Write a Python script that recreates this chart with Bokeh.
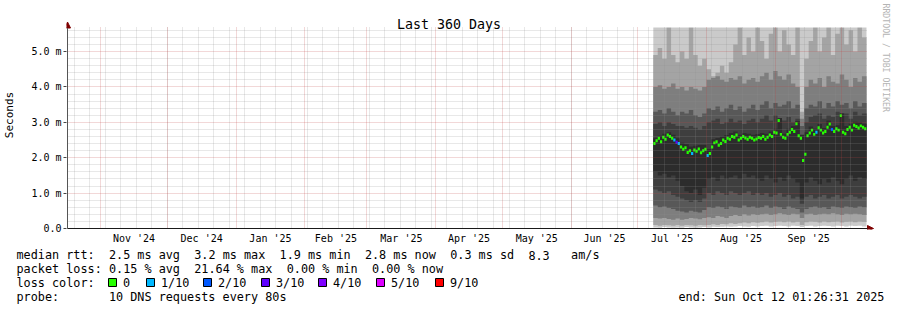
import pandas as pd
from math import pi
from bokeh.plotting import figure
from bokeh.models import (Range1d, FixedTicker, Grid, Label, Arrow, NormalHead,
                          ColumnDataSource)
from bokeh.embed import file_html
from bokeh.resources import INLINE
from bokeh.core.properties import value

FONT = "DejaVu Sans Mono"

# ---------------- data ----------------
period_start = "2024-10-17 01:26:31"
period_end = "2025-10-12 01:26:31"
title_text = "Last 360 Days"
y_label = "Seconds"

month_starts = ["2024-11-01", "2024-12-01", "2025-01-01", "2025-02-01", "2025-03-01",
                "2025-04-01", "2025-05-01", "2025-06-01", "2025-07-01", "2025-08-01",
                "2025-09-01", "2025-10-01"]
month_labels = ["Nov '24", "Dec '24", "Jan '25", "Feb '25", "Mar '25", "Apr '25",
                "May '25", "Jun '25", "Jul '25", "Aug '25", "Sep '25"]
week_starts = pd.date_range("2024-10-20", "2025-10-11", freq="7D")

y_ticks = [0, 1, 2, 3, 4, 5]
y_tick_labels = ["0.0", "1.0 m", "2.0 m", "3.0 m", "4.0 m", "5.0 m"]

# smoke bands (ms), one value per 2 days starting 2025-07-08
# (the maximum is above the graph top everywhere: read as "at least 5.68")
band_dates = pd.date_range("2025-07-08", periods=48, freq="2D")
band_max = [5.9, 6.0, 5.9, 6.1, 5.95, 5.85, 6.0, 5.9, 6.1, 5.95, 5.9, 6.0,
            5.85, 5.9, 5.9, 5.95, 5.9, 6.0, 6.05, 6.1, 6.0, 6.05, 5.95, 6.1,
            6.05, 5.9, 6.1, 6.1, 6.0, 6.1, 6.05, 5.95, 6.1, 5.8, 6.0, 6.05,
            6.1, 6.0, 6.05, 6.1, 5.95, 6.05, 6.1, 6.0, 6.1, 6.0, 6.1, 6.05]
band_u2 = [4.9, 5.1, 4.8, 5.7, 4.9, 4.7, 5.0, 4.8, 5.7, 4.9, 4.6, 4.8,
           4.5, 4.3, 4.4, 4.6, 4.4, 4.7, 5.2, 5.7, 4.9, 5.4, 5.0, 5.7,
           5.3, 4.8, 5.5, 5.7, 5.0, 5.6, 5.2, 4.9, 5.7, 3.3, 4.8, 5.3,
           5.7, 5.0, 5.4, 5.7, 4.9, 5.5, 5.7, 5.2, 5.6, 5.0, 5.7, 5.4]
band_u3 = [4.0, 4.05, 3.95, 4.0, 4.1, 3.95, 4.0, 3.9, 4.0, 3.95, 3.9, 4.0,
           4.2, 4.25, 4.3, 4.2, 4.15, 4.25, 4.2, 4.3, 4.1, 4.2, 4.25, 4.15,
           4.3, 4.4, 4.2, 4.45, 4.3, 4.2, 4.35, 4.1, 4.0, 3.1, 4.0, 4.2,
           4.1, 4.25, 4.0, 4.3, 4.15, 4.1, 4.35, 4.2, 4.0, 4.25, 4.15, 4.3]
band_u4 = [3.3, 3.35, 3.25, 3.4, 3.3, 3.2, 3.3, 3.25, 3.35, 3.2, 3.15, 3.25,
           3.4, 3.35, 3.45, 3.3, 3.4, 3.5, 3.35, 3.45, 3.3, 3.4, 3.5, 3.35,
           3.5, 3.6, 3.4, 3.55, 3.45, 3.5, 3.6, 3.4, 3.5, 2.9, 3.4, 3.5,
           3.45, 3.6, 3.4, 3.55, 3.45, 3.6, 3.5, 3.55, 3.4, 3.6, 3.45, 3.55]
band_u5 = [2.95, 3.0, 2.9, 3.0, 2.95, 2.9, 2.9, 2.85, 2.9, 2.85, 2.8, 2.9,
           3.0, 3.05, 3.1, 2.95, 3.0, 3.1, 3.0, 3.05, 2.95, 3.05, 3.1, 3.0,
           3.1, 3.2, 3.05, 3.2, 3.1, 3.05, 3.15, 3.0, 3.1, 2.6, 3.0, 3.15,
           3.2, 3.25, 3.1, 3.2, 3.15, 3.3, 3.2, 3.25, 3.1, 3.3, 3.2, 3.25]
band_u6 = [2.55, 2.62, 2.68, 2.72, 2.65, 2.55, 2.42, 2.38, 2.32, 2.34, 2.36, 2.36,
           2.25, 2.52, 2.56, 2.6, 2.64, 2.7, 2.74, 2.65, 2.7, 2.68, 2.65, 2.67,
           2.7, 2.68, 2.74, 2.82, 3.12, 2.68, 2.82, 2.9, 3.04, 2.65, 2.72, 2.88,
           2.82, 2.95, 2.84, 3.05, 2.9, 2.92, 3.26, 2.9, 2.96, 3.02, 3.0, 2.96]
band_l6 = [1.6, 1.5, 1.55, 1.45, 1.5, 1.35, 1.2, 1.05, 1.0, 1.1, 0.95, 1.15,
           1.4, 1.45, 1.35, 1.5, 1.4, 1.45, 1.5, 1.4, 1.55, 1.45, 1.5, 1.4,
           1.35, 1.5, 1.4, 1.3, 1.45, 1.35, 1.5, 1.4, 1.3, 0.85, 1.3, 1.45,
           1.35, 1.25, 1.4, 1.3, 1.45, 1.35, 1.25, 1.4, 1.5, 1.35, 1.45, 1.4]
band_l5 = [1.1, 1.05, 1.0, 1.05, 0.95, 0.9, 0.85, 0.8, 0.75, 0.8, 0.75, 0.85,
           1.0, 0.95, 1.05, 1.0, 0.95, 1.05, 1.0, 0.95, 1.0, 1.05, 0.95, 1.0,
           0.95, 1.0, 0.9, 0.95, 1.0, 0.9, 0.95, 0.85, 0.9, 0.7, 0.9, 0.95,
           0.85, 0.9, 0.95, 0.85, 0.9, 0.95, 0.85, 0.9, 0.95, 0.9, 0.85, 0.9]
band_l4 = [0.65, 0.6, 0.62, 0.58, 0.55, 0.5, 0.48, 0.45, 0.5, 0.47, 0.45, 0.52,
           0.6, 0.58, 0.62, 0.6, 0.55, 0.62, 0.6, 0.58, 0.65, 0.6, 0.62, 0.58,
           0.6, 0.65, 0.58, 0.62, 0.6, 0.55, 0.62, 0.58, 0.55, 0.45, 0.55, 0.6,
           0.62, 0.58, 0.6, 0.55, 0.62, 0.6, 0.58, 0.62, 0.6, 0.58, 0.62, 0.6]
band_l3 = [0.3, 0.28, 0.3, 0.27, 0.25, 0.28, 0.25, 0.27, 0.3, 0.28, 0.26, 0.3,
           0.32, 0.3, 0.35, 0.33, 0.3, 0.35, 0.38, 0.35, 0.4, 0.37, 0.4, 0.38,
           0.4, 0.42, 0.38, 0.4, 0.43, 0.4, 0.38, 0.42, 0.4, 0.3, 0.4, 0.42,
           0.38, 0.4, 0.42, 0.4, 0.43, 0.4, 0.38, 0.42, 0.4, 0.42, 0.4, 0.38]
band_l2 = [0.1, 0.08, 0.1, 0.09, 0.08, 0.1, 0.08, 0.1, 0.09, 0.08, 0.1, 0.09,
           0.1, 0.12, 0.1, 0.13, 0.12, 0.15, 0.13, 0.15, 0.17, 0.15, 0.18, 0.16,
           0.18, 0.2, 0.17, 0.19, 0.2, 0.18, 0.2, 0.17, 0.19, 0.1, 0.18, 0.2,
           0.19, 0.17, 0.2, 0.18, 0.19, 0.2, 0.17, 0.19, 0.2, 0.18, 0.2, 0.19]
band_min = [0.03, 0.02, 0.04, 0.03, 0.02, 0.03, 0.02, 0.04, 0.03, 0.02, 0.03, 0.04,
            0.03, 0.05, 0.04, 0.05, 0.06, 0.05, 0.06, 0.07, 0.06, 0.05, 0.07, 0.06,
            0.07, 0.08, 0.06, 0.07, 0.08, 0.07, 0.06, 0.08, 0.07, 0.04, 0.07, 0.08,
            0.06, 0.07, 0.08, 0.07, 0.06, 0.08, 0.07, 0.06, 0.08, 0.07, 0.08, 0.06]

# daily median rtt (ms) and loss (tenths) starting 2025-07-08
median_dates = pd.date_range("2025-07-08", periods=96, freq="D")
median_ms = [2.40, 2.48, 2.55, 2.45, 2.58, 2.52, 2.64, 2.60, 2.55, 2.50, 2.44, 2.40,
             2.30, 2.24, 2.28, 2.15, 2.20, 2.12, 2.22, 2.18, 2.25, 2.14, 2.20, 2.24,
             2.06, 2.12, 2.30, 2.42, 2.45, 2.35, 2.40, 2.50, 2.46, 2.55, 2.52, 2.60,
             2.58, 2.64, 2.50, 2.55, 2.60, 2.56, 2.52, 2.58, 2.55, 2.50, 2.53, 2.57,
             2.55, 2.60, 2.52, 2.58, 2.64, 2.60, 2.72, 2.70, 3.05, 2.66, 2.58, 2.55,
             2.66, 2.72, 2.80, 2.74, 2.96, 2.62, 2.55, 1.92, 2.10, 2.62, 2.70, 2.78,
             2.66, 2.72, 2.85, 2.78, 2.70, 2.74, 2.86, 2.95, 2.80, 2.74, 2.82, 2.78,
             3.19, 2.72, 2.68, 2.80, 2.86, 2.78, 2.92, 2.88, 2.84, 2.90, 2.86, 2.82]
loss_tenths = [0, 0, 0, 0, 0, 0, 0, 0, 0, 1, 3, 1,
               0, 0, 0, 0, 0, 1, 0, 0, 0, 0, 0, 0,
               1, 0, 0, 0, 0, 0, 0, 0, 0, 0, 0, 0,
               0, 0, 0, 0, 0, 0, 0, 0, 0, 0, 0, 0,
               0, 0, 0, 0, 0, 0, 0, 0, 0, 0, 0, 0,
               0, 0, 0, 0, 0, 0, 0, 0, 0, 0, 0, 0,
               0, 1, 0, 0, 0, 0, 0, 0, 2, 0, 0, 0,
               0, 0, 0, 0, 0, 0, 0, 0, 0, 0, 0, 0]

loss_levels = [0, 1, 2, 3, 4, 5, 9]
loss_level_labels = ["0", "1/10", "2/10", "3/10", "4/10", "5/10", "9/10"]
loss_level_colors = ["#26ff00", "#00b8ff", "#0059ff", "#5e00ff", "#7e00ff", "#dd00ff", "#ff0000"]

rtt_stats = ["2.5 ms avg", "3.2 ms max", "1.9 ms min", "2.8 ms now", "0.3 ms sd", "8.3", "am/s"]
loss_stats = ["0.15 % avg", "21.64 % max", "0.00 % min", "0.00 % now"]
probe_text = "10 DNS requests every 80s"
end_text = "end: Sun Oct 12 01:26:31 2025"
watermark = "RRDTOOL / TOBI OETIKER"

# ---------------- helpers ----------------
T0 = pd.Timestamp(period_start)
T1 = pd.Timestamp(period_end)
SPAN = (T1 - T0) / pd.Timedelta(days=1)


def day_of(ts):
    return (pd.Timestamp(ts) - T0) / pd.Timedelta(days=1)


Y_TOP = 5.68
FL, FR, FT, FB = 67, 866, 27, 228   # rrdtool graph box in pixels
W, H_MAIN, H_LEG = 897, 246, 64


def px_x(px):
    return (px - FL) / (FR - FL) * SPAN


def px_y(py):
    return (FB - py) / (FB - FT) * Y_TOP


# ---------------- main figure ----------------
# the frame covers the whole upper canvas so that arrows, title and
# watermark (which lie outside the graph box) are not clipped
p = figure(width=W, height=H_MAIN, title=None,
           x_range=Range1d(px_x(FL - 1), px_x(W)), y_range=Range1d(px_y(FB + 1), px_y(0)),
           output_backend="svg", toolbar_location=None,
           min_border_left=FL - 1, min_border_right=0, min_border_top=0,
           min_border_bottom=H_MAIN - FB - 1)
p.outline_line_color = None
p.background_fill_color = "white"
p.border_fill_color = "white"
p.xgrid.visible = False
p.ygrid.visible = False

# smoke
bx = [day_of(d) for d in band_dates] + [SPAN]


def ext(v):
    return list(v) + [v[-1]]


layers = [(band_min, band_max, "#cacaca"),
          (band_l2, band_u2, "#a4a4a4"),
          (band_l3, band_u3, "#7e7e7e"),
          (band_l4, band_u4, "#585858"),
          (band_l5, band_u5, "#3e3e3e"),
          (band_l6, band_u6, "#2c2c2c")]
for lo, hi, col in layers:
    p.varea_step(x=bx, y1=ext(lo), y2=ext(hi), step_mode="after", fill_color=col)

# graph box top: everything above it is blank
p.quad(left=[px_x(FL - 1)], right=[px_x(W)], bottom=[Y_TOP], top=[px_y(-3)],
       fill_color="white", line_color=None)

# median
cmap = dict(zip(loss_levels, loss_level_colors))
mleft = [day_of(d) for d in median_dates]
mright = [min(l + 1.0, SPAN) for l in mleft]
HALF = 0.042
msrc = ColumnDataSource(dict(left=mleft, right=mright,
                             bottom=[m - HALF for m in median_ms],
                             top=[m + HALF for m in median_ms],
                             color=[cmap[l] for l in loss_tenths]))
p.quad(left="left", right="right", bottom="bottom", top="top", fill_color="color",
       line_color=None, source=msrc)

# grids (drawn over the smoke, like rrdtool)
minor_y = [round(i * 0.2, 1) for i in range(1, 29) if i % 5]
week_pos = [day_of(d) for d in week_starts]
month_pos = [day_of(d) for d in month_starts]
for dim, ticks, col, alpha in [(0, week_pos, "#8e8e8e", 0.42), (1, minor_y, "#8e8e8e", 0.42),
                               (0, month_pos, "#c24242", 0.42), (1, [1, 2, 3, 4, 5], "#c24242", 0.42)]:
    cb = (0, Y_TOP) if dim == 0 else (0, SPAN)
    g = Grid(dimension=dim, ticker=FixedTicker(ticks=ticks), grid_line_color=col,
             grid_line_alpha=alpha, grid_line_dash="1 1", grid_line_width=1,
             cross_bounds=cb, level="annotation")
    p.add_layout(g)

# axes
label_pos = [round((day_of(a) + day_of(b)) / 2, 6) for a, b in zip(month_starts[:-1], month_starts[1:])]
xa = p.xaxis[0]
xa.ticker = FixedTicker(ticks=label_pos, minor_ticks=[])
xa.major_label_overrides = {k: v for k, v in zip(label_pos, month_labels)}
xa.major_tick_out = 0
xa.major_tick_in = 0
xa.minor_tick_line_color = None
xa.axis_line_color = None
xa.major_label_text_font = FONT
xa.major_label_text_font_size = "10px"
xa.major_label_text_color = "black"
xa.major_label_standoff = 3

ya = p.yaxis[0]
ya.ticker = FixedTicker(ticks=y_ticks, minor_ticks=[])
ya.major_label_overrides = {k: v for k, v in zip(y_ticks, y_tick_labels)}
ya.major_tick_out = 3
ya.major_tick_in = 0
ya.major_tick_line_color = "#444"
ya.minor_tick_line_color = None
ya.axis_line_color = None
ya.major_label_text_font = FONT
ya.major_label_text_font_size = "10px"
ya.major_label_text_color = "black"
ya.major_label_standoff = 2
ya.axis_label = y_label
ya.axis_label_text_font = FONT
ya.axis_label_text_font_size = "11px"
ya.axis_label_text_font_style = "normal"
ya.axis_label_text_color = "black"
ya.axis_label_standoff = 12

# axis lines with rrdtool arrows
p.add_layout(Arrow(end=NormalHead(size=6, fill_color="#7f0000", line_color="#7f0000"),
                   x_start=0, y_start=0, x_end=0, y_end=px_y(21.5),
                   line_color="#555", line_width=1))
p.add_layout(Arrow(end=NormalHead(size=6, fill_color="#7f0000", line_color="#7f0000"),
                   x_start=0, y_start=0, x_end=px_x(873), y_end=0,
                   line_color="#1a1a1a", line_width=1))

# title and watermark
p.add_layout(Label(x=px_x(448.5), y=px_y(23.5), text=title_text, text_align="center",
                   text_baseline="alphabetic", text_font=FONT, text_font_size="13.3px",
                   text_color="black"))
p.add_layout(Label(x=px_x(885.5), y=px_y(3), text=watermark, angle=-pi / 2,
                   text_align="left", text_baseline="middle", text_font=FONT,
                   text_font_size="8.2px", text_color="#b4b4b4"))

# ---------------- legend strip ----------------
q = figure(width=W, height=H_LEG, title=None, x_range=Range1d(0, W), y_range=Range1d(H_LEG, 0),
           output_backend="svg", toolbar_location=None, min_border=0,
           x_axis_location=None, y_axis_location=None)
q.grid.visible = False
q.outline_line_color = None
q.background_fill_color = "white"
q.border_fill_color = "white"

PITCH = 7.11
X0 = 16
rows_y = [8.5, 22, 36, 50]


def col_x(n):
    return X0 + n * PITCH


tx, ty, tt = [], [], []


def put(x, y, t):
    tx.append(x); ty.append(y); tt.append(t)


put(col_x(0), rows_y[0], "median rtt:")
for n, t in zip([13, 25, 37, 49, 61, 72, 78], rtt_stats):
    put(col_x(n), rows_y[0], t)
put(col_x(0), rows_y[1], "packet loss:")
for n, t in zip([13, 25, 38, 50], loss_stats):
    put(col_x(n), rows_y[1], t)
put(col_x(0), rows_y[2], "loss color:")
sq_x = [108, 146, 203, 261, 318, 376, 435]
for sx, lab in zip(sq_x, loss_level_labels):
    put(sx + 14.5, rows_y[2], lab)
put(col_x(0), rows_y[3], "probe:")
put(col_x(13), rows_y[3], probe_text)
put(678, rows_y[3], end_text)

q.text(x=tx, y=ty, text=tt, text_font=value(FONT), text_font_size="11.8px",
       text_baseline="middle", text_align="left", text_color="black")

SQ = 8
q.quad(left=sq_x, right=[s + SQ for s in sq_x],
       top=[rows_y[2] - SQ / 2] * len(sq_x), bottom=[rows_y[2] + SQ / 2] * len(sq_x),
       fill_color=loss_level_colors, line_color="#000000", line_width=1)

open("out.html", "w").write(file_html([p, q], INLINE))
